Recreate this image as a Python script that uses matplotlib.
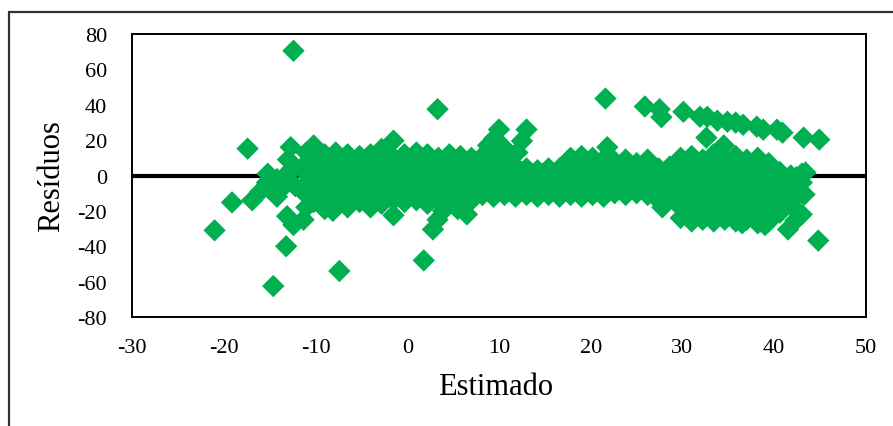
import matplotlib
matplotlib.use("Agg")
import matplotlib.pyplot as plt
from matplotlib.patches import Rectangle

# ---- data ----
# main cloud: estimated value (x) -> residuals in that column (y)
core_columns = [
    (-11.0, [-18, -11, -5, 1, 7, 13]),
    (-10.2, [-15, -8, -2, 4, 10, 17]),
    (-9.0, [-19, -12, -6, 0, 6, 12]),
    (-7.8, [-16, -10, -4, 2, 8, 13]),
    (-6.5, [-18, -11, -5, 1, 7, 12]),
    (-5.2, [-15, -9, -3, 3, 9, 11]),
    (-4.0, [-18, -11, -5, 1, 6, 12]),
    (-2.8, [-16, -10, -4, 2, 8, 15]),
    (-1.5, [-14, -8, -2, 4, 10]),
    (-0.3, [-15, -9, -3, 3, 9, 12]),
    (1.0, [-14, -8, -2, 4, 10, 13]),
    (2.2, [-16, -10, -4, 2, 8, 12]),
    (3.4, [-14, -8, -2, 4, 10]),
    (4.6, [-15, -9, -3, 3, 9, 12]),
    (5.8, [-18, -11, -5, 1, 7, 11]),
    (7.0, [-14, -8, -2, 4, 10]),
    (8.2, [-11, -5, 1, 7, 11]),
    (9.4, [-12, -6, 0, 6, 10]),
    (10.6, [-11, -5, 1, 6, 9]),
    (11.8, [-12, -6, 0, 5]),
    (13.0, [-11, -5, 0, 4]),
    (14.2, [-12, -6, -1, 3]),
    (15.4, [-11, -5, 0, 4]),
    (16.6, [-12, -6, -1, 4]),
    (17.8, [-11, -5, 1, 7, 10]),
    (19.0, [-12, -6, 0, 6, 11]),
    (20.2, [-11, -5, 1, 7, 10]),
    (21.4, [-12, -6, 0, 6, 9]),
    (22.6, [-10, -4, 2, 8]),
    (23.8, [-11, -5, 1, 7, 9]),
    (25.0, [-10, -4, 2, 7]),
    (26.2, [-11, -5, 1, 6, 9]),
    (27.4, [-14, -8, -2, 4]),
    (28.6, [-13, -7, -1, 5]),
    (29.8, [-24, -18, -12, -6, -1, 4, 10]),
    (31.0, [-26, -20, -14, -8, -3, 2, 8, 11]),
    (32.2, [-25, -19, -13, -7, -1, 4, 9]),
    (33.4, [-26, -20, -14, -8, -3, 2, 8, 12]),
    (34.6, [-25, -19, -13, -7, -1, 4, 9]),
    (35.8, [-26, -20, -14, -8, -3, 2, 8, 11]),
    (37.0, [-25, -19, -13, -7, -1, 4, 9]),
    (38.2, [-27, -21, -15, -9, -3, 2, 7, 10]),
    (39.4, [-26, -20, -14, -8, -2, 3, 7]),
    (40.6, [-21, -15, -9, -3, 2]),
    (41.8, [-17, -11, -5, 0]),
    (43.0, [-10, -4, 1]),
]

# in-between points that fill the cloud
fill_x = [-10.6, -9.6, -8.4, -7.2, -5.8, -4.6, -3.4, -2.2, -0.9, 0.4,
          1.6, 2.8, 4.0, 5.2, 6.4, 7.6, 8.8, 10.0, 11.2, 12.4,
          13.6, 14.8, 16.0, 17.2, 18.4, 19.6, 20.8, 22.0, 23.2, 24.4,
          25.6, 26.8, 28.0, 29.2, 30.4, 31.6, 32.8, 34.0, 35.2, 36.4,
          37.6, 38.8, 40.0, 41.2, 42.4,
          -10.0, -7.0, -4.4, -1.0, 2.0, 5.0, 8.0, 12.0, 14.8, 16.0,
          18.0, 21.0, 24.0, 27.0, 30.6, 33.0, 35.4, 37.8, 40.2, 42.0]
fill_y = [-3, 4, -8, 5, -2, 8, -13, -1, 6, -6,
          1, -12, 7, -1, -8, 1, -8, 3, -2, 2,
          -8, 1, -3, -8, 3, -9, 4, -7, -2, -7,
          4, -8, -5, 1, -12, 5, -19, -7, 6, -18,
          -1, -12, -10, -7, -1,
          -12, -14, -7, -11, 5, -12, -9, -9, -2, 0,
          -2, -9, -7, -11, 0, -1, 1, -1, -6, -14]

# scattered points outside the main cloud
outlier_x = [-17.4, -21.0, -19.1, -16.9, -16.0, -15.3, -15.2, -14.2, -13.8, -14.2,
             -12.4, -12.7, -13.0, -12.5, -13.3, -12.2, -13.1, -12.4, -11.3, -13.2,
             -14.6, -7.4, -8.1, -1.5, -1.5, 3.3, 1.8, 2.8, 3.3, 3.9,
             6.5, 5.5, 10.0, 9.5, 8.8, 10.5, 13.0, 12.5, 12.0, 21.6,
             21.8, 25.9, 27.5, 27.7, 30.1, 32.6, 34.5, 43.2, 44.9, 44.8,
             41.5, 42.3, 43.0, 43.3, 43.4, 39.0, 38.5, 36.5, 27.8]
outlier_y = [15.2, -31.0, -15.2, -14.0, -9.0, -4.0, 1.0, -2.0, -8.0, -12.0,
             70.5, 16.0, 9.0, 4.0, 0.0, -6.0, -23.0, -28.0, -25.0, -40.0,
             -62.5, -54.0, -20.0, 19.7, -22.5, 37.5, -48.0, -30.5, -25.0, -20.0,
             -22.0, -19.0, 26.0, 21.0, 17.0, 16.0, 26.0, 19.5, 13.0, 43.5,
             16.0, 39.0, 37.5, 33.0, 36.0, 21.4, 17.0, 21.4, 20.3, -36.8,
             -30.5, -25.5, -22.0, -10.7, 1.7, -28.0, -26.0, -27.0, -18.0]

# upper arc of residuals at high estimates
arc_x = [31.9, 32.7, 33.8, 34.9, 35.8, 36.6, 38.1, 38.8, 40.3, 40.9]
arc_y = [33.2, 33.2, 31.0, 30.4, 29.9, 28.7, 27.6, 25.9, 25.9, 24.2]

x_ticks = [-30, -20, -10, 0, 10, 20, 30, 40, 50]
y_ticks = [-80, -60, -40, -20, 0, 20, 40, 60, 80]

# ---- build point lists ----
px, py = [], []
for cx, ys in core_columns:
    for v in ys:
        px.append(cx)
        py.append(v)
px += fill_x + outlier_x + arc_x
py += fill_y + outlier_y + arc_y

GREEN = "#00B050"
plt.rcParams["font.family"] = ["Liberation Serif", "DejaVu Serif"]

fig = plt.figure(figsize=(8.93, 4.27), dpi=100)
# outer chart frame (left and top edges visible)
fig.patches.append(Rectangle((9 / 893, -0.05), 1.2, 1 - 13 / 427 + 0.05,
                             transform=fig.transFigure, fill=False,
                             edgecolor="#333333", linewidth=1.6))

ax = fig.add_axes([132 / 893, 1 - 318 / 427, (866 - 132) / 893, (318 - 35) / 427])
ax.axhline(0, color="black", linewidth=3.0, zorder=1)
ax.scatter(px, py, marker="D", s=130, color=GREEN, edgecolors="none", zorder=2)

ax.set_xlim(-30, 50)
ax.set_ylim(-80, 80)
ax.set_xticks(x_ticks)
ax.set_yticks(y_ticks)
ax.set_xticklabels([str(t) for t in x_ticks])
ax.set_yticklabels([str(t) for t in y_ticks])
ax.tick_params(axis="both", length=0, labelsize=16)
ax.tick_params(axis="y", pad=18)
ax.tick_params(axis="x", pad=15)
for sp in ax.spines.values():
    sp.set_linewidth(1.4)
    sp.set_color("black")

fig.text(496 / 893, 1 - 388 / 427, "Estimado", fontsize=22,
         ha="center", va="center")
fig.text(52 / 893, 1 - 176 / 427, "Resíduos", fontsize=22,
         ha="center", va="center", rotation=90)

fig.savefig("out.png", dpi=100)
